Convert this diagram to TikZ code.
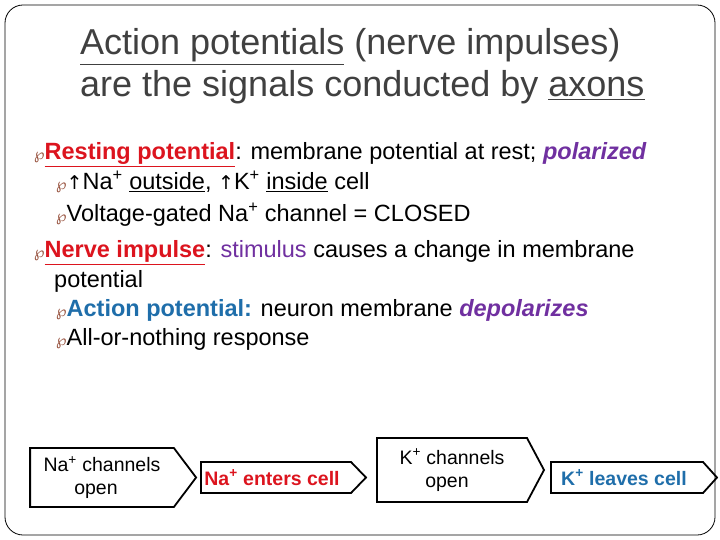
\documentclass[tikz,border=0pt]{standalone}
\usepackage{fontspec}
\setmainfont{Liberation Sans}
\newfontfamily\dejavu{DejaVu Sans}
\usetikzlibrary{shapes.symbols}
\definecolor{myred}{RGB}{220,20,30}
\definecolor{mypurple}{RGB}{112,48,160}
\definecolor{myblue}{RGB}{31,110,170}
\definecolor{bul}{RGB}{150,80,60}
\newcommand{\myul}[1]{$\underline{\hbox{#1}}$}
\newcommand{\bl}{{\dejavu\color{bul}\fontsize{15pt}{15pt}\selectfont ℘}}
\begin{document}
\begin{tikzpicture}[x=1pt,y=-1pt,
  ln/.style={anchor=base west,inner sep=0,font=\fontsize{23.5pt}{28pt}\selectfont},
  sig/.style={shape=signal,signal to=east,draw,line width=1.8pt,inner sep=0,align=center,font=\fontsize{19.5pt}{23pt}\selectfont}]
\useasboundingbox (0,0) rectangle (720,540);
\draw[line width=0.8pt,rounded corners=18pt] (5,5) rectangle (715,535);
\node[ln,font=\fontsize{36pt}{40pt}\selectfont,text=black!75] (t1) at (80,55) {\myul{Action potentials} (nerve impulses)};
\node[ln,font=\fontsize{36pt}{40pt}\selectfont,text=black!75] (t2) at (80,97) {are the signals conducted by \myul{axons}};
\node[ln] (l1) at (34,160) {\bl\textcolor{myred}{\myul{\bfseries Resting potential}}: membrane potential at rest; \textcolor{mypurple}{\textbf{\textit{polarized}}}};
\node[ln] (l2) at (56,190) {\bl{\dejavu\fontsize{19pt}{22pt}\selectfont ↑}Na\textsuperscript{+} \myul{outside}, {\dejavu\fontsize{19pt}{22pt}\selectfont ↑}K\textsuperscript{+} \myul{inside} cell};
\node[ln] (l3) at (56,222) {\bl Voltage-gated Na\textsuperscript{+} channel = CLOSED};
\node[ln] (l4) at (34,258) {\bl\textcolor{myred}{\myul{\bfseries Nerve impulse}}: \textcolor{mypurple}{stimulus} causes a change in membrane};
\node[ln] (l5) at (54,287) {potential};
\node[ln] (l6) at (56,316) {\bl\textcolor{myblue}{\textbf{Action potential:}} neuron membrane \textcolor{mypurple}{\textbf{\textit{depolarizes}}}};
\node[ln] (l7) at (56,345) {\bl All-or-nothing response};
\node[sig,minimum width=166,minimum height=59,signal pointer angle=106] (b1) at (102,477.5) {Na\textsuperscript{+} channels\\open\hspace*{12pt}};
\node[sig,minimum width=165,minimum height=31,signal pointer angle=92,text=myred,font=\bfseries\fontsize{19.5pt}{23pt}\selectfont] (b2) at (276,477.5) {Na\textsuperscript{+} enters cell\hspace*{8pt}};
\node[sig,minimum width=167,minimum height=64,signal pointer angle=124] (b3) at (452,470) {K\textsuperscript{+} channels\\open\hspace*{10pt}};
\node[sig,minimum width=166,minimum height=31,signal pointer angle=96,text=myblue,font=\bfseries\fontsize{19.5pt}{23pt}\selectfont] (b4) at (627,477.5) {K\textsuperscript{+} leaves cell\hspace*{6pt}};
\end{tikzpicture}
\end{document}
